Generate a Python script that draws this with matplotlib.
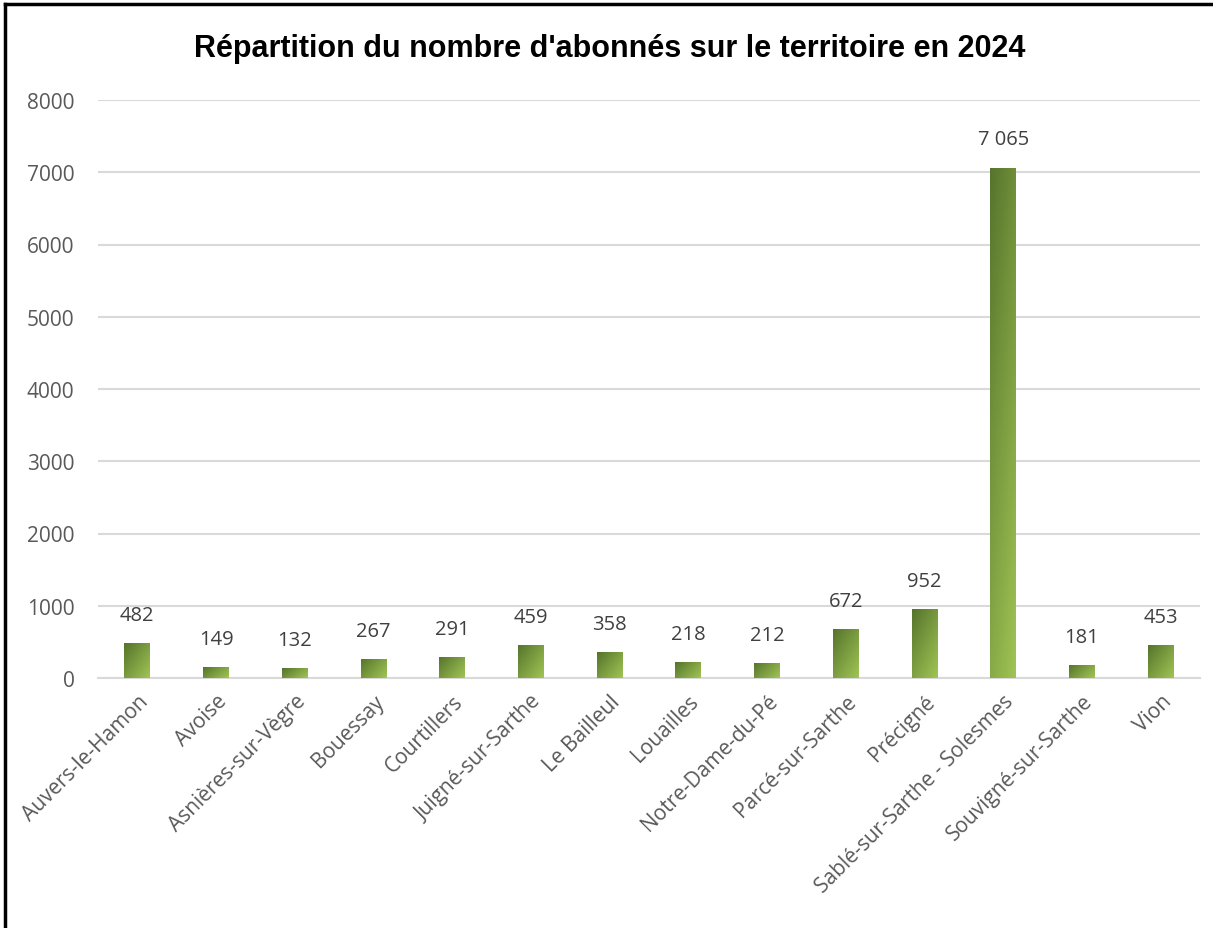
import numpy as np
import matplotlib.pyplot as plt
from matplotlib.lines import Line2D

communes = ['Auvers-le-Hamon', 'Avoise', 'Asnières-sur-Vègre', 'Bouessay', 'Courtillers',
            'Juigné-sur-Sarthe', 'Le Bailleul', 'Louailles', 'Notre-Dame-du-Pé',
            'Parcé-sur-Sarthe', 'Précigné', 'Sablé-sur-Sarthe - Solesmes',
            'Souvigné-sur-Sarthe', 'Vion']
abonnes = [482, 149, 132, 267, 291, 459, 358, 218, 212, 672, 952, 7065, 181, 453]
yticks = [0, 1000, 2000, 3000, 4000, 5000, 6000, 7000, 8000]

fig = plt.figure(figsize=(12.13, 9.29), dpi=100)
ax = fig.add_axes([98 / 1213, 1 - 679 / 929, 1102 / 1213, 578 / 929])

x = np.arange(len(communes))
bars = ax.bar(x, abonnes, width=0.33, color='none', zorder=3)

# degradé vert : foncé en haut à gauche -> clair en bas à droite
dark = np.array([86, 116, 44]) / 255
light = np.array([160, 196, 84]) / 255
for b in bars:
    x0, y0 = b.get_x(), b.get_y()
    w, h = b.get_width(), b.get_height()
    hpx = max(int(h / 8000 * 578), 2)
    col, row = np.meshgrid(np.linspace(0, 1, 26), np.linspace(0, 1, hpx))
    t = (col * 26 + row * hpx) / (26 + hpx)
    t = 0.5 * t + 0.5 * col * 0.6 + 0.5 * row * 0.4
    t = np.clip(t, 0, 1)
    img = dark[None, None, :] * (1 - t[..., None]) + light[None, None, :] * t[..., None]
    im = ax.imshow(img, extent=[x0, x0 + w, y0, y0 + h], aspect='auto',
                   origin='upper', zorder=3)
    im.set_clip_path(b)

for xi, v in zip(x, abonnes):
    lab = f"{v:,}".replace(',', ' ')
    ax.annotate(lab, (xi, v), xytext=(0, 13), textcoords='offset points',
                ha='center', va='bottom', fontsize=14.5, color='#404040',
                family='Open Sans')

ax.set_xlim(-0.5, len(communes) - 0.5)
ax.set_ylim(0, 8000)
ax.set_yticks(yticks)
ax.set_yticklabels([str(t) for t in yticks], fontsize=15, color='#595959', family='Open Sans')
ax.set_xticks(x)
ax.set_xticklabels(communes, rotation=45, ha='right', va='top', rotation_mode='anchor',
                   fontsize=15, color='#595959', family='Open Sans')
ax.tick_params(axis='both', length=0)
ax.tick_params(axis='y', pad=17)
ax.tick_params(axis='x', pad=9)
ax.grid(axis='y', color='#d9d9d9', linewidth=1.5, zorder=0)
ax.set_axisbelow(True)
for s in ['top', 'right', 'left']:
    ax.spines[s].set_visible(False)
ax.spines['bottom'].set_color('#d9d9d9')
ax.spines['bottom'].set_linewidth(1.5)

fig.text(610 / 1213, 1 - 49 / 929, "Répartition du nombre d'abonnés sur le territoire en 2024",
         ha='center', va='center', fontsize=22, fontweight='bold', family='Liberation Sans')

# cadre noir (haut et gauche)
fig.add_artist(Line2D([5 / 1213, 5 / 1213], [0, 1 - 5 / 929], transform=fig.transFigure,
                      color='black', linewidth=2.5))
fig.add_artist(Line2D([5 / 1213, 1], [1 - 5 / 929, 1 - 5 / 929], transform=fig.transFigure,
                      color='black', linewidth=2.5))

fig.savefig('out.png', dpi=100)
